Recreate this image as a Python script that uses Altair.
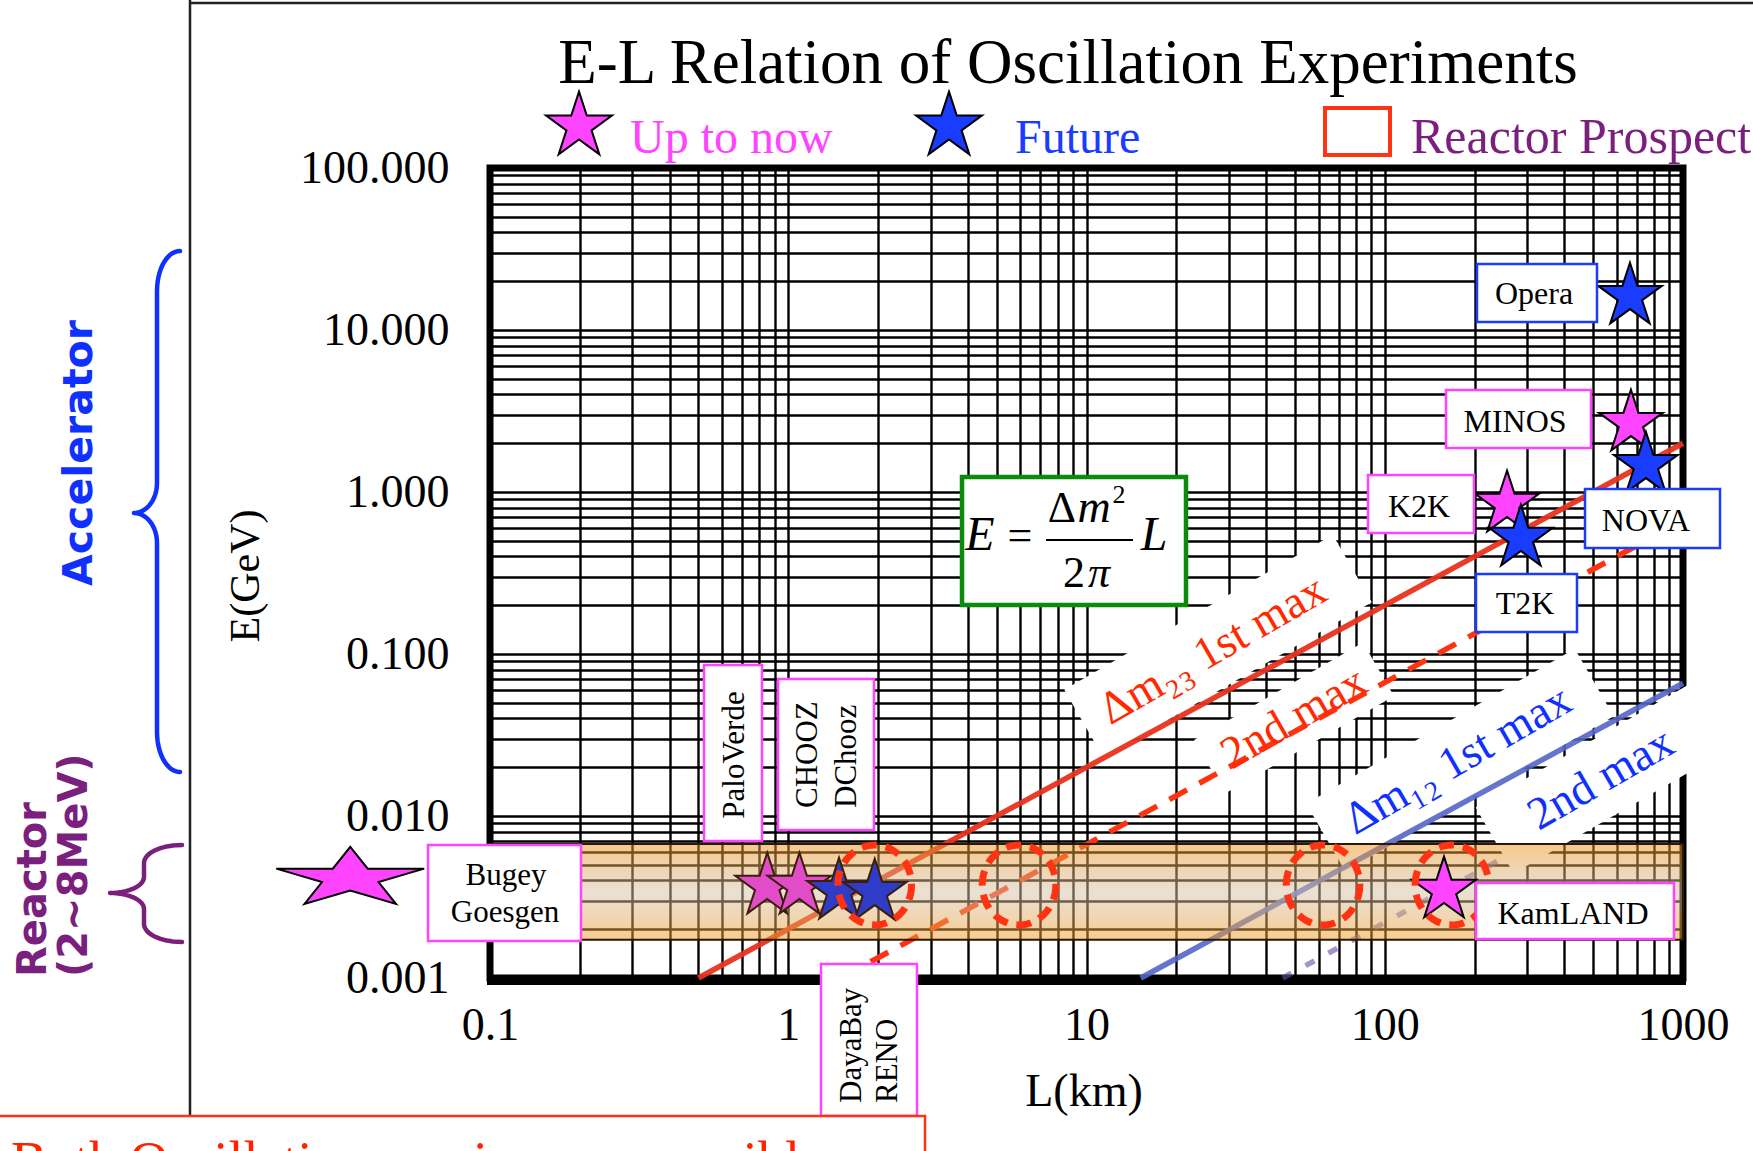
import altair as alt
import numpy as np
import pandas as pd

# ---------------- geometry of the drawing (pixels) ----------------
LEFT, TOP = 490, 168          # origin of the log-log plot area
PLOT_W, PLOT_H = 1193, 810    # plot area size
CANVAS_W, CANVAS_H = 1753, 1151

L_DOMAIN = [0.1, 1000]        # baseline L (km)
E_DOMAIN = [0.001, 100]       # neutrino energy E (GeV)

SERIF = "Liberation Serif"
ROUND = "DejaVu Sans"

PINK = "#FF44FF"
BLUE = "#1A3CFF"
RED = "#FF3311"
LINE_RED = "#E8321E"
LINE_BLUE = "#5466C8"
PURPLE = "#7B1F7F"
GREEN = "#0B8A0B"

# ---------------- data ----------------
# experiments: baseline L (km) and typical energy E (GeV)
exp_name = ["Bugey/Goesgen", "PaloVerde", "CHOOZ/DChooz", "DayaBay", "RENO",
            "KamLAND", "K2K", "T2K", "MINOS", "NOVA", "Opera"]
exp_L = [0.034, 0.85, 1.09, 1.48, 1.95, 158, 257, 286, 669, 751, 664]
exp_E = [0.0043, 0.00386, 0.00386, 0.00359, 0.00354, 0.00365,
         0.88, 0.543, 2.78, 1.53, 16.9]
exp_status = ["Up to now", "Up to now", "Up to now", "Future", "Future",
              "Up to now", "Up to now", "Future", "Up to now", "Future", "Future"]

# reactor prospects (dashed ellipses)
prospect_L = [1.95, 5.94, 62.1, 168]
prospect_E = [0.00375, 0.00375, 0.00375, 0.00375]

# oscillation-maximum lines E = dm^2 L / 2pi, given by their end points
dm23_first_L, dm23_first_E = [0.5, 1000], [0.001, 2.0]
dm23_second_L, dm23_second_E = [1.5, 1000], [0.001, 0.667]
dm12_first_L, dm12_first_E = [15.2, 1000], [0.001, 0.066]
dm12_second_L, dm12_second_E = [45.5, 1000], [0.001, 0.022]

# reactor energy band (2~8 MeV)
band_E = [0.00172, 0.00672]

# log-paper grid values
x_ticks = [m * 10.0 ** k for k in range(-1, 3) for m in range(1, 10)] + [1000.0]
y_ticks = [m * 10.0 ** k for k in range(-3, 2) for m in range(1, 10)] + [100.0]

# ---------------- scales / axes ----------------
DECADE = "abs(log(datum.value)/LN10 - round(log(datum.value)/LN10)) < 1e-6"
x_axis = alt.Axis(values=x_ticks, grid=True, gridColor="black", gridWidth=2.4,
                  gridOpacity=1, domain=False, ticks=False, tickSize=0,
                  labelOverlap=False, labelFlush=False,
                  labelExpr=f"{DECADE} ? format(datum.value, '~g') : ''",
                  labelFont=SERIF, labelFontSize=46, labelColor="black",
                  labelBaseline="middle", labelPadding=47, title=None)
y_axis = alt.Axis(values=y_ticks, grid=True, gridColor="black", gridWidth=2.4,
                  gridOpacity=1, domain=False, ticks=False, tickSize=0,
                  labelOverlap=False, labelFlush=False,
                  labelExpr=f"{DECADE} ? format(datum.value, '.3f') : ''",
                  labelFont=SERIF, labelFontSize=46, labelColor="black",
                  labelAlign="right", labelBaseline="middle", labelPadding=41,
                  title=None)
x_scale = alt.Scale(type="log", domain=L_DOMAIN, nice=False)
y_scale = alt.Scale(type="log", domain=E_DOMAIN, nice=False)


def X(field="L"):
    return alt.X(f"{field}:Q", scale=x_scale, axis=x_axis)


def Y(field="E"):
    return alt.Y(f"{field}:Q", scale=y_scale, axis=y_axis)


def L_at(px):
    """canvas x pixel -> baseline value"""
    return L_DOMAIN[0] * 10 ** ((px - LEFT) * 4 / PLOT_W)


def E_at(py):
    """canvas y pixel -> energy value"""
    return E_DOMAIN[0] * 10 ** ((TOP + PLOT_H - py) * 5 / PLOT_H)


# ---------------- symbol shapes ----------------
def star_path(squash=1.0):
    pts = []
    for k in range(10):
        ang = -np.pi / 2 + k * np.pi / 5
        r = 1.0 if k % 2 == 0 else 0.382
        pts.append((r * np.cos(ang), (r * np.sin(ang) + 0.0955) * squash))
    return "M" + "L".join(f"{x:.4f},{y:.4f}" for x, y in pts) + "Z"


def ellipse_path(rx, ry, n=60):
    t = np.linspace(0, 2 * np.pi, n, endpoint=False)
    return "M" + "L".join(f"{rx*np.cos(a):.4f},{ry*np.sin(a):.4f}" for a in t) + "Z"


STAR = star_path()
FLAT_STAR = star_path(0.405)
ELLIPSE = ellipse_path(0.92, 1.0)

ONE = pd.DataFrame({"k": [0]})


def text_at(s, x, y, size, color="black", angle=0, align="center",
            baseline="alphabetic", font=SERIF, style="normal", weight="normal"):
    return alt.Chart(ONE).mark_text(
        text=s, fontSize=size, color=color, angle=angle, align=align,
        baseline=baseline, font=font, fontStyle=style, fontWeight=weight
    ).encode(x=alt.value(x - LEFT), y=alt.value(y - TOP))


def rect_at(x0, y0, x1, y1, stroke, sw=2.5, fill="white"):
    return alt.Chart(ONE).mark_rect(fill=fill, stroke=stroke, strokeWidth=sw).encode(
        x=alt.value(x0 - LEFT), x2=alt.value(x1 - LEFT),
        y=alt.value(y0 - TOP), y2=alt.value(y1 - TOP))


def rule_at(x0, y0, x1, y1, color="black", sw=2.5):
    return alt.Chart(ONE).mark_rule(color=color, strokeWidth=sw).encode(
        x=alt.value(x0 - LEFT), x2=alt.value(x1 - LEFT),
        y=alt.value(y0 - TOP), y2=alt.value(y1 - TOP))


def slab_at(x, y, length, thick, angle):
    a = thick / length
    path = f"M-1,{-a:.4f}L1,{-a:.4f}L1,{a:.4f}L-1,{a:.4f}Z"
    return alt.Chart(ONE).mark_point(
        shape=path, size=length ** 2, angle=angle, filled=True, color="white",
        opacity=1, strokeWidth=0
    ).encode(x=alt.value(x - LEFT), y=alt.value(y - TOP))


def symbol_at(shape, x, y, size, fill):
    return alt.Chart(ONE).mark_point(
        shape=shape, size=size, filled=True, fill=fill, stroke="black",
        strokeWidth=2, opacity=1
    ).encode(x=alt.value(x - LEFT), y=alt.value(y - TOP))


def brace(x_end, x_mid, x_tip, y0, y1, ym, r, r2, color, n=14):
    pts = []
    rx = x_end - x_mid
    for t in np.linspace(-np.pi / 2, -np.pi, n):
        pts.append((x_end + rx * np.cos(t), y0 + r + r * np.sin(t)))
    rt = x_mid - x_tip
    for t in np.linspace(0, np.pi / 2, n):
        pts.append((x_tip + rt * np.cos(t), ym - r2 + r2 * np.sin(t)))
    for t in np.linspace(-np.pi / 2, 0, n):
        pts.append((x_tip + rt * np.cos(t), ym + r2 + r2 * np.sin(t)))
    for t in np.linspace(np.pi, np.pi / 2, n):
        pts.append((x_end + rx * np.cos(t), y1 - r + r * np.sin(t)))
    df = pd.DataFrame({"L": [L_at(p[0]) for p in pts],
                       "E": [E_at(p[1]) for p in pts],
                       "i": range(len(pts))})
    return alt.Chart(df).mark_line(color=color, strokeWidth=4.5, strokeCap="round",
                                   strokeJoin="round").encode(X(), Y(), order="i:Q")


def osc_line(Ls, Es, color, width=5.5, dash=None, opacity=1.0):
    df = pd.DataFrame({"L": Ls, "E": Es})
    kw = dict(color=color, strokeWidth=width, opacity=opacity)
    if dash:
        kw["strokeDash"] = dash
    return alt.Chart(df).mark_line(**kw).encode(X(), Y())


stars = pd.DataFrame({"name": exp_name, "L": exp_L, "E": exp_E, "status": exp_status})
prospects = pd.DataFrame({"L": prospect_L, "E": prospect_E})
band = pd.DataFrame({"L0": [L_DOMAIN[0]], "L1": [L_DOMAIN[1]],
                     "E0": [band_E[0]], "E1": [band_E[1]]})

layers = []

# plot frame
layers.append(alt.Chart(ONE).mark_rect(fill="transparent", stroke="black", strokeWidth=7)
              .encode(x=alt.value(0), x2=alt.value(PLOT_W), y=alt.value(0), y2=alt.value(PLOT_H)))
layers.append(rule_at(LEFT - 3, TOP + PLOT_H + 2, LEFT + PLOT_W + 3, TOP + PLOT_H + 2, sw=10))

# faint second maximum of dm12, partly hidden by its label
layers.append(osc_line(dm12_second_L, dm12_second_E, "#6A4AA8", dash=[10, 16], opacity=0.6))

# white backgrounds behind the line labels
layers += [slab_at(1218, 646, 310, 78, 330), slab_at(1294, 718, 195, 62, 330),
           slab_at(1460, 760, 310, 78, 330), slab_at(1603, 778, 250, 76, 330)]

# oscillation maxima lines
layers.append(osc_line(dm23_first_L, dm23_first_E, LINE_RED, opacity=0.95))
layers.append(osc_line(dm23_second_L, dm23_second_E, RED, dash=[20, 14]))
layers.append(osc_line(dm12_first_L, dm12_first_E, LINE_BLUE, opacity=0.9))

# reactor energy band
band_fill = alt.Gradient(gradient="linear", x1=0, x2=0, y1=0, y2=1, stops=[
    alt.GradientStop(offset=0, color="#ED9119"),
    alt.GradientStop(offset=0.5, color="#D4C2AA"),
    alt.GradientStop(offset=1, color="#F09A22")])
layers.append(alt.Chart(band).mark_rect(fill=band_fill, fillOpacity=0.5, stroke="#2A1800",
                                        strokeWidth=2)
              .encode(x=alt.X("L0:Q", scale=x_scale, axis=x_axis), x2="L1:Q",
                      y=alt.Y("E0:Q", scale=y_scale, axis=y_axis), y2="E1:Q"))

# stars
star_fill_muted = alt.condition("datum.status == 'Future'", alt.value("#2E3CC8"), alt.value("#E24CC8"))
star_fill = alt.condition("datum.status == 'Future'", alt.value(BLUE), alt.value(PINK))
layers.append(alt.Chart(stars.iloc[1:5]).mark_point(
    shape=STAR, size=4500, filled=True, stroke="#3A1E08", strokeWidth=2, opacity=1)
    .encode(X(), Y(), fill=star_fill_muted))
layers.append(alt.Chart(stars.iloc[5:]).mark_point(
    shape=STAR, size=4500, filled=True, stroke="black", strokeWidth=2, opacity=1)
    .encode(X(), Y(), fill=star_fill))
layers.append(alt.Chart(stars.iloc[:1]).mark_point(
    shape=FLAT_STAR, size=24200, filled=True, stroke="black", strokeWidth=2, opacity=1)
    .encode(X(), Y(), fill=star_fill))

# reactor prospects
layers.append(alt.Chart(prospects).mark_point(
    shape=ELLIPSE, size=6400, filled=False, color=RED, strokeWidth=7,
    strokeDash=[15, 9], opacity=1).encode(X(), Y()))

# experiment label boxes
MAG_BOX, BLUE_BOX = "#FF44FF", "#1A3CFF"
layers += [
    rect_at(428, 845, 581, 941, MAG_BOX),
    rect_at(704, 665, 762, 841, MAG_BOX),
    rect_at(778, 679, 874, 830, MAG_BOX),
    rect_at(821, 964, 917, 1116, MAG_BOX),
    rect_at(1476, 883, 1674, 939, MAG_BOX),
    rect_at(1368, 475, 1474, 533, MAG_BOX),
    rect_at(1446, 390, 1591, 448, MAG_BOX),
    rect_at(1477, 264, 1597, 322, BLUE_BOX),
    rect_at(1585, 489, 1720, 548, BLUE_BOX),
    rect_at(1476, 574, 1577, 632, BLUE_BOX),
]
layers += [
    text_at("Bugey", 506, 885, 31),
    text_at("Goesgen", 505, 922, 31),
    text_at("PaloVerde", 735, 755, 31, angle=270, baseline="middle"),
    text_at("CHOOZ", 808, 808, 31, angle=270, align="left", baseline="middle"),
    text_at("DChooz", 847, 808, 31, angle=270, align="left", baseline="middle"),
    text_at("DayaBay", 852, 1103, 31, angle=270, align="left", baseline="middle"),
    text_at("RENO", 888, 1103, 31, angle=270, align="left", baseline="middle"),
    text_at("KamLAND", 1573, 924, 32),
    text_at("K2K", 1419, 517, 32),
    text_at("MINOS", 1515, 432, 32),
    text_at("Opera", 1534, 304, 32),
    text_at("NOVA", 1646, 531, 32),
    text_at("T2K", 1525, 614, 32),
]

# line labels
layers += [
    text_at("Δm₂₃ 1st max", 1213, 650, 46, color="#FF2A00", angle=330, baseline="middle"),
    text_at("2nd max", 1294, 718, 46, color="#FF2A00", angle=330, baseline="middle"),
    text_at("Δm₁₂ 1st max", 1458, 760, 46, color="#1030FF", angle=330, baseline="middle"),
    text_at("2nd max", 1601, 779, 46, color="#1030FF", angle=330, baseline="middle"),
]

# formula box
layers += [
    rect_at(962, 477, 1186, 605, GREEN, sw=4.5),
    text_at("E", 980, 550, 48, style="italic"),
    text_at("=", 1020, 550, 44),
    text_at("Δ", 1062, 522, 44),
    text_at("m", 1094, 522, 46, style="italic"),
    text_at("2", 1119, 503, 26),
    rule_at(1046, 540, 1133, 540, sw=2),
    text_at("2", 1074, 587, 44),
    text_at("π", 1099, 587, 44, style="italic"),
    text_at("L", 1154, 550, 48, style="italic"),
]

# slide frame and bottom note
layers += [
    rule_at(190, 0, 190, 1116, color="#222222", sw=2.5),
    rule_at(190, 3, CANVAS_W + 5, 3, color="#222222", sw=2.5),
    rect_at(-10, 1116, 925, CANVAS_H + 20, RED, sw=2.5),
    text_at("Both Oscillation maxima are possible", 11, 1179, 54, color="#FF2200",
            align="left"),
]

# title and legend
layers += [
    text_at("E-L Relation of Oscillation Experiments", 1068, 83, 63),
    symbol_at(STAR, 579, 123, 4800, PINK),
    text_at("Up to now", 630, 153, 48, color=PINK, align="left"),
    symbol_at(STAR, 949, 123, 4800, BLUE),
    text_at("Future", 1015, 153, 48, color=BLUE, align="left"),
    rect_at(1325, 108, 1390, 155, RED, sw=4, fill="transparent"),
    text_at("Reactor Prospect", 1411, 153, 50, color=PURPLE, align="left"),
]

# axis titles
layers += [
    text_at("L(km)", 1084, 1092, 46, baseline="middle"),
    text_at("E(GeV)", 246, 576, 42, angle=270, baseline="middle"),
]

# accelerator / reactor groupings on the left
layers += [
    brace(180, 157, 134, 251, 772, 513, 40, 30, "#1030FF"),
    brace(182, 144, 110, 845, 942, 893, 18, 16, PURPLE),
    text_at("Accelerator", 80, 453, 41, color="#1030FF", angle=270, baseline="middle",
            font=ROUND, weight="bold"),
    text_at("Reactor", 34, 977, 40, color=PURPLE, angle=270, align="left",
            baseline="middle", font=ROUND, weight="bold"),
    text_at("(2~8MeV)", 75, 977, 40, color=PURPLE, angle=270, align="left",
            baseline="middle", font=ROUND, weight="bold"),
]

chart = alt.layer(*layers).properties(
    width=PLOT_W, height=PLOT_H,
    padding={"left": LEFT, "top": TOP, "right": CANVAS_W - LEFT - PLOT_W,
             "bottom": CANVAS_H - TOP - PLOT_H},
    autosize=alt.AutoSizeParams(type="none"),
    background="white",
).configure_view(strokeWidth=0)

chart.save("out.html", embed_options={"renderer": "svg", "actions": False})
